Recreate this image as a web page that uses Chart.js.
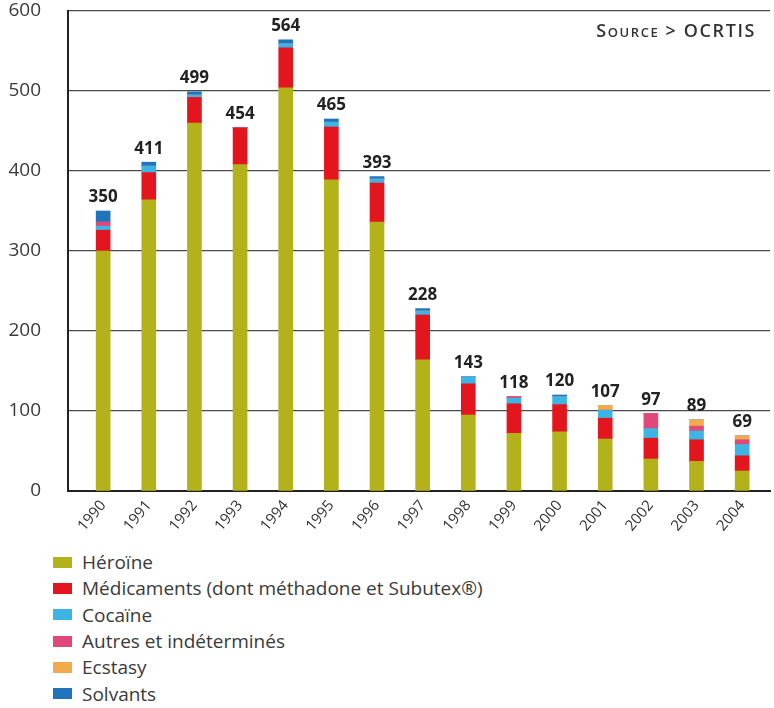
<!DOCTYPE html>
<html>
<head>
<meta charset="utf-8">
<script src="https://cdn.jsdelivr.net/npm/chart.js@4"></script>
<style>
  html, body { margin: 0; padding: 0; background: #fff; }
  body { width: 774px; height: 708px; position: relative; overflow: hidden; font-family: "Open Sans", sans-serif; }
  #wrap { position: absolute; left: 0; top: 0; width: 774px; height: 540px; }
  #source { position: absolute; right: 18px; top: 18px; font-size: 18px; font-weight: 600; color: #333; font-variant: small-caps; letter-spacing: 1.6px; }
  #legend { position: absolute; left: 53px; top: 549px; }
  .item { height: 26.3px; display: flex; align-items: center; font-size: 19px; color: #3a3a3a; }
  .sw { width: 19px; height: 11px; margin-right: 10px; }
</style>
</head>
<body>
<div id="wrap"><canvas id="chart"></canvas></div>
<div id="source">Source &gt; OCRTIS</div>
<div id="legend"></div>
<script>
// ===== Data
const years = [1990, 1991, 1992, 1993, 1994, 1995, 1996, 1997, 1998, 1999, 2000, 2001, 2002, 2003, 2004];
const heroine     = [300, 364, 460, 408, 504, 389, 336, 164,  95,  72,  74,  65,  40,  37,  25];
const medicaments = [ 26,  34,  32,  46,  50,  66,  49,  56,  39,  37,  34,  26,  26,  27,  19];
const cocaine     = [  5,   8,   3,   0,   5,   6,   5,   5,   9,   7,  10,  10,  12,  11,  14];
const autres      = [  5,   0,   0,   0,   0,   0,   0,   0,   0,   2,   0,   0,  19,   6,   6];
const ecstasy     = [  0,   0,   0,   0,   0,   0,   0,   0,   0,   0,   0,   6,   0,   8,   5];
const solvants    = [ 14,   5,   4,   0,   5,   4,   3,   3,   0,   0,   2,   0,   0,   0,   0];
const totals      = [350, 411, 499, 454, 564, 465, 393, 228, 143, 118, 120, 107,  97,  89,  69];
const yTicks = [0, 100, 200, 300, 400, 500, 600];

const series = [
  { label: 'Héroïne', data: heroine, color: '#b3b21b' },
  { label: 'Médicaments (dont méthadone et Subutex®)', data: medicaments, color: '#e3151f' },
  { label: 'Cocaïne', data: cocaine, color: '#3cb5e5' },
  { label: 'Autres et indéterminés', data: autres, color: '#e0487a' },
  { label: 'Ecstasy', data: ecstasy, color: '#f2aa4c' },
  { label: 'Solvants', data: solvants, color: '#1f74bd' }
];

// ===== Totals above bars
const totalsPlugin = {
  id: 'totals',
  afterDatasetsDraw(chart) {
    const ctx = chart.ctx;
    const x = chart.scales.x, y = chart.scales.y;
    ctx.save();
    ctx.font = 'bold 17px "Open Sans", sans-serif';
    ctx.fillStyle = '#222';
    ctx.textAlign = 'center';
    ctx.textBaseline = 'bottom';
    totals.forEach((t, i) => {
      ctx.fillText(String(t), x.getPixelForValue(years[i]), y.getPixelForValue(t) - 5);
    });
    ctx.restore();
  }
};

const ctx = document.getElementById('chart').getContext('2d');
new Chart(ctx, {
  type: 'bar',
  data: {
    labels: years,
    datasets: series.map(s => ({
      label: s.label,
      data: s.data.map((v, i) => ({ x: years[i], y: v })),
      backgroundColor: s.color,
      borderWidth: 0,
      barThickness: 14
    }))
  },
  options: {
    responsive: true,
    maintainAspectRatio: false,
    animation: false,
    layout: { padding: { top: 11, right: 4, left: 0, bottom: 0 } },
    plugins: { legend: { display: false }, tooltip: { enabled: false } },
    scales: {
      x: {
        type: 'linear',
        stacked: true,
        offset: false,
        min: 1989.23, max: 2004.61,
        afterBuildTicks(scale) { scale.ticks = years.map(v => ({ value: v })); },
        grid: { display: false, drawTicks: false },
        border: { color: '#222', width: 2 },
        ticks: {
          minRotation: 50, maxRotation: 50, padding: 6,
          callback: v => String(v),
          color: '#333', font: { size: 15, family: '"Open Sans", sans-serif' }
        },
        afterFit(scale) { scale.height = 49; scale.paddingLeft = 0; scale.paddingRight = 0; }
      },
      y: {
        stacked: true,
        min: 0, max: 600,
        afterBuildTicks(scale) { scale.ticks = yTicks.map(v => ({ value: v })); },
        grid: { color: '#4a4a4a', lineWidth: 1.3, drawTicks: false },
        border: { color: '#222', width: 2 },
        ticks: { padding: 27, color: '#3a3a3a', font: { size: 19, family: '"Open Sans", sans-serif' } },
        afterFit(scale) { scale.width = 68; scale.paddingTop = 0; scale.paddingBottom = 0; }
      }
    }
  },
  plugins: [totalsPlugin]
});

// ===== Legend (one item per line)
const legendEl = document.getElementById('legend');
series.forEach(s => {
  const row = document.createElement('div');
  row.className = 'item';
  const sw = document.createElement('span');
  sw.className = 'sw';
  sw.style.background = s.color;
  const txt = document.createElement('span');
  txt.textContent = s.label;
  row.appendChild(sw);
  row.appendChild(txt);
  legendEl.appendChild(row);
});
</script>
</body>
</html>
